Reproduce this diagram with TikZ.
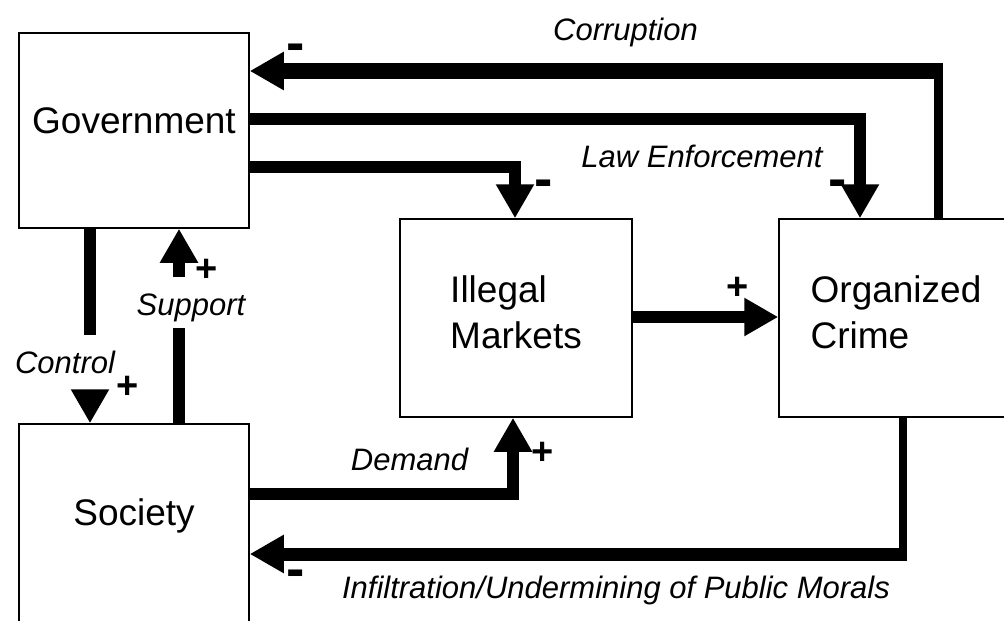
\documentclass[tikz,border=0pt]{standalone}
\usepackage{fontspec}
\setmainfont{Liberation Sans}
\usetikzlibrary{arrows.meta}

\begin{document}
\begin{tikzpicture}[x=1pt, y=-1pt,
        block/.style={draw, line width=1.5pt, inner sep=0pt, font=\fontsize{37}{46}\selectfont},
        flow/.style={line width=12pt, -{Triangle[length=34pt, width=36pt]}},
        bar/.style={line width=12pt},
        tag/.style={font=\fontsize{31}{31}\itshape\selectfont, inner sep=0pt, anchor=base},
        negsign/.style={font=\fontsize{55}{55}\bfseries\selectfont, inner sep=0pt, anchor=base},
        possign/.style={font=\fontsize{38}{38}\bfseries\selectfont, inner sep=0pt, anchor=base}]
        \useasboundingbox (0,0) rectangle (1004,621);
        
        \node (gov) [block, minimum width=230pt, text height=100pt, text depth=95pt] at (134,130.5) {Government};
        \node (soc) [block, minimum width=230pt, text height=101pt, text depth=155pt] at (134,552) {Society};
        \node (markets) [block, minimum width=232pt, text height=129pt, text depth=69pt, align=left] at (516,318) {Illegal\\Markets};
        \node (crime) [block, minimum width=234pt, text height=129pt, text depth=69pt, align=left] at (896,318) {Organized\\Crime};
        
        \coordinate (corr) at (938,63);
        \coordinate (infl) at (903,560.5);
        \coordinate (ctrlA) at (90,335);
        \coordinate (ctrlB) at (90,390);
        \coordinate (suppA) at (179,328);
        \coordinate (suppB) at (179,277);
        
        \draw [line width=9pt] ([xshift=42pt]crime.north) -- (corr);
        \draw [flow, line width=16pt] ([xshift=4.5pt, yshift=-8pt]corr) -- ([yshift=59.5pt]gov.east);
        \draw [flow] ([yshift=11.5pt]gov.east) -| ([xshift=-36pt]crime.north);
        \draw [flow] ([yshift=-36.5pt]gov.east) -| ([xshift=-1pt]markets.north);
        \draw [flow] ([yshift=58pt]soc.east) -| ([xshift=-3pt]markets.south);
        \draw [flow] ([yshift=1pt]markets.east) -- ([yshift=1pt]crime.west);
        \draw [line width=8pt] ([xshift=7pt]crime.south) -- (infl);
        \draw [flow, line width=13pt] ([xshift=4pt, yshift=6.5pt]infl) -- ([yshift=-2pt]soc.east);
        \draw [bar] ([xshift=-44pt]gov.south) -- (ctrlA);
        \draw [flow] (ctrlB) -- ([xshift=-44pt]soc.north);
        \draw [bar] ([xshift=45pt]soc.north) -- (suppA);
        \draw [flow] (suppB) -- ([xshift=45pt]gov.south);
        
        \node (lblCorr) [tag] at (625.5,40) {Corruption};
        \node (lblLaw) [tag] at (702,167) {Law Enforcement};
        \node (lblSupp) [tag] at (191,315) {Support};
        \node (lblCtrl) [tag] at (65,373) {Control};
        \node (lblDem) [tag] at (409.5,470) {Demand};
        \node (lblInfl) [tag] at (616,598) {Infiltration/Undermining of Public Morals};
        
        \node (sgnCorr) [negsign] at (296,61) {-};
        \node (sgnGovMkt) [negsign] at (544,197) {-};
        \node (sgnLaw) [negsign] at (838,197) {-};
        \node (sgnInfl) [negsign] at (296,587) {-};
        \node (sgnSupp) [possign] at (207,281.5) {+};
        \node (sgnCtrl) [possign] at (128,398.5) {+};
        \node (sgnMktCrime) [possign] at (738,299.5) {+};
        \node (sgnDem) [possign] at (543,464.5) {+};
        
    \end{tikzpicture}
\end{document}
